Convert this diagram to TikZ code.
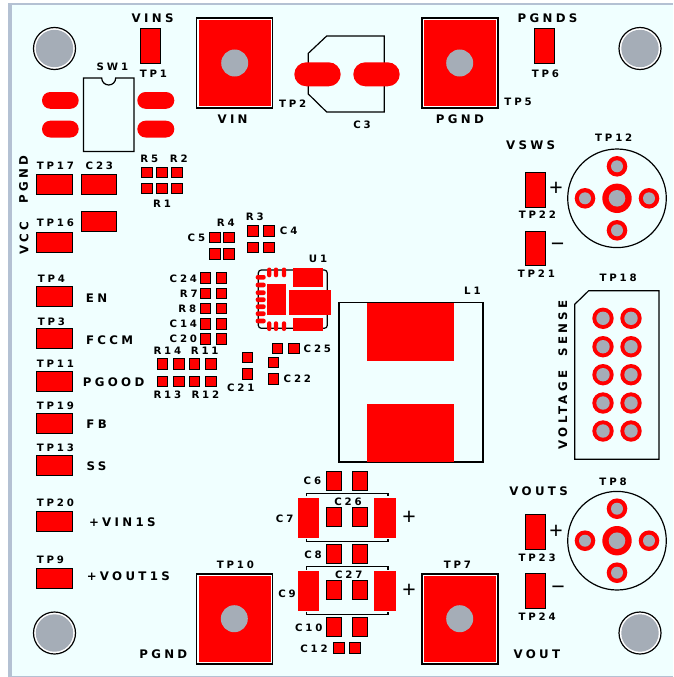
\documentclass[tikz,border=0pt]{standalone}
\usepackage{fontspec}
\setmainfont{DejaVu Sans}[LetterSpace=28]
\newfontfamily\signfont{Liberation Sans}
\definecolor{boardblue}{HTML}{F0FFFF}
\definecolor{edgeblue}{HTML}{B4C1D3}
\definecolor{holegray}{HTML}{A5ADB7}
\tikzset{
    silk/.style={inner sep=0pt, xshift=1.4pt, font=\bfseries\fontsize{10.2}{11}\selectfont},
    silkbig/.style={inner sep=0pt, xshift=1.6pt, font=\bfseries\fontsize{11.8}{13}\selectfont},
    silkup/.style={inner sep=0pt, yshift=1.6pt, rotate=90, font=\bfseries\fontsize{11.8}{13}\selectfont},
    signmark/.style={inner sep=0pt, font=\signfont\fontsize{23}{24}\selectfont},
    outline/.style={draw=black, line width=1.2pt},
    smdpad/.style={draw=black, fill=red, line width=.9pt},
    bigpad/.style={draw=black, fill=white, line width=1.2pt},
    pillpad/.style={fill=red, rounded corners=8.3pt},
    copper/.style={fill=red},
    drill/.style={fill=holegray}
}
\begin{document}
\begin{tikzpicture}[x=1pt,y=-1pt]
            \useasboundingbox (0, 0) rectangle (673, 677);
            \fill[white] (0, 0) rectangle (673, 677);
            \fill[edgeblue] (8, 3) rectangle (673, 677);
            \fill[boardblue] (11.5, 5.5) rectangle (673, 676);
            %mounting holes
            \foreach \hx/\hy in {54.5/48.5, 640/48.5, 54.5/633, 640/633} {
                \draw[line width=1.2pt, fill=white] (\hx, \hy) circle (21);
                \fill[holegray] (\hx, \hy) circle (18.7);
            }
            %big square pads
            \foreach \hx/\hy/\px/\py in {196.5/18/234.7/63, 422/18/459.7/63, 196.5/574/234.3/618.7, 422/574/459.7/618.7} {
                \draw[bigpad] (\hx, \hy) rectangle ++(76, 90);
                \fill[red] (\hx+2, \hy+2) rectangle ++(72, 86);
                \fill[drill] (\px, \py) circle (13.5);
            }
            %switch
            \draw[outline] (83.5, 78) -- (101.7, 78) arc (180:0:7) -- (134, 78) -- (134, 151.5) -- (83.5, 151.5) -- cycle;
            \foreach \py in {92, 120.7} {
                \fill[pillpad] (42, \py) rectangle ++(36.7, 16.8);
                \fill[pillpad] (137.3, \py) rectangle ++(37, 16.8);
            }
            %C3
            \draw[outline] (308.3, 53.3) -- (326.7, 36) -- (384.3, 36) -- (384.3, 112) -- (326.7, 112) -- (308.3, 94) -- cycle;
            \fill[copper, rounded corners=12pt] (294.3, 62.3) rectangle (340.7, 86.3);
            \fill[copper, rounded corners=12pt] (353.3, 62.3) rectangle (399.7, 86.3);
            %upright test points
            \foreach \px/\py in {140.5/28, 534/28, 525.3/172.3, 525.3/230.7, 525/514.3, 525/573.3} {
                \draw[smdpad] (\px+.4, \py+.4) rectangle ++(19.9, 34.6);
            }
            %flat test points and C23
            \foreach \py in {174.3, 232, 286, 328, 371, 413, 455, 511, 567.7} {
                \draw[smdpad] (36.7, \py+.4) rectangle ++(35.6, 19.9);
            }
            \draw[smdpad] (81.1, 174.7) rectangle ++(35.2, 19.4);
            \draw[smdpad] (81.1, 211.9) rectangle ++(35.2, 19.4);
            %small pads
            \foreach \px/\py in {141.3/166.7, 156.5/166.7, 171.5/166.7, 141.3/183, 156.5/183, 171.5/183,
                                 209.3/232, 223.3/232, 209.3/248.3, 223.3/248.3,
                                 247.3/225.3, 263.3/225.3, 247.3/241.7, 263.3/241.7,
                                 157/358.3, 173.3/358.3, 189/358.3, 205.3/358.3,
                                 157/376, 173.3/376, 189/376, 205.3/376,
                                 242/352, 242/368.3, 268/357, 268/373.3, 272/343, 288.3/343,
                                 333.3/642.5, 349.3/642.5} {
                \draw[smdpad] (\px+.4, \py+.4) rectangle ++(10.4, 10.4);
            }
            \foreach \py in {272.3, 288, 303, 318.3, 333.3} {
                \draw[smdpad] (200.1, \py+.4) rectangle ++(10.4, 10.4);
                \draw[smdpad] (216.4, \py+.4) rectangle ++(10.4, 10.4);
            }
            %U1
            \draw[outline, rounded corners=3pt] (258.3, 270) rectangle (327.3, 328.3);
            \fill[copper] (293.3, 268) rectangle (322.7, 287);
            \fill[copper] (289, 290.3) rectangle (330.7, 315);
            \fill[copper] (293.3, 317.7) rectangle (322.7, 331);
            \fill[copper] (267.3, 284) rectangle (286, 315);
            \foreach \px in {269.2, 276, 284} {
                \fill[copper, rounded corners=2pt] (\px-2.1, 267.5) rectangle ++(4.2, 9.8);
                \fill[copper, rounded corners=2pt] (\px-2.1, 321.3) rectangle ++(4.2, 9.7);
            }
            \foreach \py in {277.3, 285, 292.7, 299.7, 306.7, 313.7, 321} {
                \fill[copper, rounded corners=2pt] (255.7, \py-2.3) rectangle ++(10, 4.6);
            }
            %L1
            \draw[outline] (339, 302.5) rectangle (483, 462);
            \fill[copper] (367, 303) rectangle (454, 361);
            \fill[copper] (367, 404) rectangle (454, 462);
            %output caps
            \foreach \py in {471.3, 507, 544.3, 580, 617.3} {
                \draw[smdpad] (326.1, \py+.4) rectangle ++(15.8, 18.9);
                \draw[smdpad] (352.1, \py+.4) rectangle ++(15.8, 18.9);
            }
            \foreach \ptop/\pbot in {493.3/541.7, 566.7/614.7} {
                \draw[outline] (306.3, \ptop+3) -- (306.3, \ptop) -- (388, \ptop) -- (388, \ptop+3);
                \draw[outline] (306.3, \pbot-3) -- (306.3, \pbot) -- (388, \pbot) -- (388, \pbot-3);
                \fill[copper] (297.7, \ptop+4.2) rectangle (319, \pbot-4.2);
                \fill[copper] (374.3, \ptop+4.2) rectangle (395.7, \pbot-4.2);
            }
            %TP12, TP8
            \foreach \cy in {198.3, 540.7} {
                \draw[outline] (617, \cy) circle (49.3);
                \fill[red] (617, \cy) circle (14.7);
                \fill[drill] (617, \cy) circle (8.3);
                \foreach \dx/\dy in {0/-32, 0/32, -32/0, 32/0} {
                    \fill[red] (617+\dx, \cy+\dy) circle (10.3);
                    \fill[drill] (617+\dx, \cy+\dy) circle (6);
                }
            }
            %TP18
            \draw[outline] (574.7, 304.3) -- (588.7, 290.7) -- (659, 290.7) -- (659, 459.3) -- (574.7, 459.3) -- cycle;
            \foreach \px in {603, 631} {
                \foreach \py in {318.3, 346.7, 374.7, 403, 431} {
                    \fill[red] (\px, \py) circle (10.7);
                    \fill[drill] (\px, \py) circle (6.7);
                }
            }
            %labels
            \foreach \lname/\lx/\ly/\ltext in {
                sw1/111/66.7/SW1, tp1/152/74/TP1, tp6/544/74/TP6, tp17/54/166/TP17, c23/98/166/C23,
                tp16/54/223/TP16, tp4/50/279/TP4, tp3/50/322/TP3, tp11/54/364/TP11, tp19/54/406/TP19,
                tp13/54/448/TP13, tp20/54/503/TP20, tp9/49/560/TP9, r5/148/159.3/R5, r2/177.3/158.7/R2,
                r1/160.7/203.3/R1, r4/224.3/222.7/R4, c5/195/237.3/C5, r3/253.3/216.7/R3, c4/287.3/230.7/C4,
                c24/182/278.3/C24, r7/187.3/294/R7, r8/186/308.7/R8, c14/182/323.3/C14, c20/182/338.7/C20,
                r14/166/351/R14, r11/203.3/351/R11, r13/166/394.3/R13, r12/204/394.3/R12, c21/239.3/387.3/C21,
                c22/296/378.3/C22, c25/316/348.3/C25, u1/316.7/259.3/U1, l1/471/291/L1, c6/311/481/C6,
                c26/346.7/501.7/C26, c7/283.3/519/C7, c8/311.7/555/C8, c27/347.3/574.7/C27, c9/285.7/593.3/C9,
                c10/307.3/627.7/C10, c12/312.7/648.3/C12, tp2/291.3/104/TP2, tp5/516.7/102/TP5, c3/360.7/124.3/C3,
                tp12/612.3/137.3/TP12, tp22/536/215/TP22, tp21/535/274/TP21, tp18/616.7/278/TP18,
                tp8/611.7/482/TP8, tp23/535.7/557.7/TP23, tp24/535.7/616.7/TP24, tp10/234/565/TP10, tp7/456/565/TP7} {
                \node[silk] (\lname) at (\lx, \ly) {\ltext};
            }
            \node[silkbig] (vins) at (151, 18.5) {VINS};
            \node[silkbig] (pgnds) at (546, 18) {PGNDS};
            \node[silkbig] (vin) at (231, 119.3) {VIN};
            \node[silkbig] (pgndtop) at (458.3, 119.3) {PGND};
            \node[silkbig] (vsws) at (529, 145.3) {VSWS};
            \node[silkbig] (vouts) at (537, 491) {VOUTS};
            \node[silkbig] (vout) at (535.3, 654) {VOUT};
            \node[silkbig] (pgndlow) at (161.7, 654) {PGND};
            \node[silkbig] (en) at (95, 298) {EN};
            \node[silkbig] (fccm) at (108, 340) {FCCM};
            \node[silkbig] (pgood) at (112, 382) {PGOOD};
            \node[silkbig] (fb) at (95, 424) {FB};
            \node[silkbig] (ss) at (95, 466) {SS};
            \node[silkbig] (vin1s) at (120.7, 522.3) {+VIN1S};
            \node[silkbig] (vout1s) at (126.7, 575.7) {+VOUT1S};
            \node[silkup] (pgndside) at (23.5, 181) {PGND};
            \node[silkup] (vcc) at (24, 240) {VCC};
            \node[silkup] (vsense) at (562.7, 376.5) {VOLTAGE\hspace{1.2em}SENSE};
            \node[signmark] (plusa) at (409, 517.7) {+};
            \node[signmark] (plusb) at (409, 590.7) {+};
            \node[signmark] (plusc) at (556, 189.3) {+};
            \node[signmark] (plusd) at (556, 532.3) {+};
            \node[signmark] (minusa) at (557.7, 247) {−};
            \node[signmark] (minusb) at (558, 590.7) {−};
        \end{tikzpicture}
\end{document}
